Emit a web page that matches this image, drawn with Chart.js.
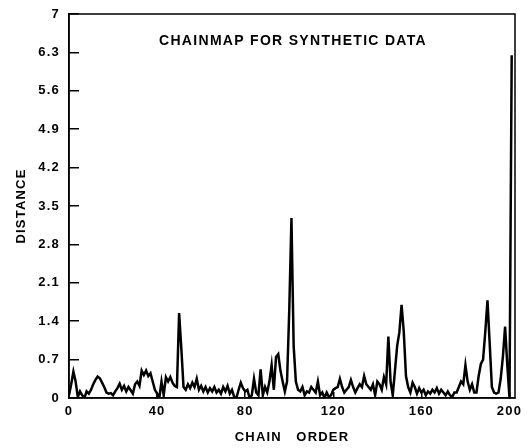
<!DOCTYPE html>
<html><head><meta charset="utf-8">
<script src="https://cdn.jsdelivr.net/npm/chart.js@4.4.1/dist/chart.umd.min.js"></script>
<style>html,body{margin:0;padding:0;background:#fff}#wrap{width:532px;height:448px}</style>
</head><body><div id="wrap"><canvas id="c" width="532" height="448"></canvas></div>
<script>
// Distance value for each chain-order position 0..201
const distance = [
  0.05,0.25,0.48,0.30,0.02,0.12,0.05,0.00,0.12,0.08,
  0.15,0.25,0.33,0.39,0.36,0.28,0.20,0.10,0.08,0.09,
  0.05,0.12,0.18,0.26,0.15,0.22,0.12,0.20,0.14,0.08,
  0.25,0.30,0.22,0.50,0.42,0.50,0.40,0.45,0.30,0.15,
  0.08,0.00,0.30,0.05,0.38,0.30,0.38,0.28,0.22,0.20,
  1.55,0.90,0.20,0.15,0.25,0.18,0.28,0.20,0.35,0.15,
  0.22,0.12,0.20,0.10,0.18,0.12,0.20,0.10,0.15,0.08,
  0.20,0.12,0.22,0.08,0.15,0.02,0.00,0.15,0.28,0.18,
  0.12,0.15,0.00,0.05,0.35,0.10,0.05,0.52,0.05,0.20,
  0.10,0.30,0.60,0.15,0.75,0.80,0.50,0.30,0.12,0.30,
  1.60,3.28,0.95,0.30,0.15,0.12,0.20,0.05,0.12,0.10,
  0.20,0.15,0.10,0.30,0.05,0.10,0.00,0.10,0.02,0.05,
  0.15,0.18,0.20,0.35,0.20,0.10,0.15,0.20,0.33,0.20,
  0.10,0.18,0.25,0.20,0.40,0.25,0.20,0.15,0.25,0.05,
  0.30,0.25,0.15,0.38,0.25,1.12,0.30,0.05,0.50,0.95,
  1.20,1.70,1.20,0.40,0.20,0.10,0.28,0.20,0.08,0.18,
  0.10,0.15,0.05,0.12,0.08,0.15,0.10,0.18,0.08,0.15,
  0.10,0.05,0.12,0.05,0.02,0.10,0.10,0.20,0.30,0.25,
  0.60,0.30,0.15,0.25,0.10,0.10,0.40,0.62,0.70,1.20,
  1.78,1.00,0.20,0.10,0.08,0.10,0.35,0.75,1.30,0.60,
  0.00,6.25
];
const xTicks = [0, 40, 80, 120, 160, 200];
const xTickLabels = ['0', '40', '80', '120', '160', '200'];
const yTicks = [0, 0.7, 1.4, 2.1, 2.8, 3.5, 4.2, 4.9, 5.6, 6.3, 7];
const yTickLabels = ['0', '0.7', '1.4', '2.1', '2.8', '3.5', '4.2', '4.9', '5.6', '6.3', '7'];
const chartTitle = 'CHAINMAP FOR SYNTHETIC DATA';
const xTitle = 'CHAIN   ORDER';
const yTitle = 'DISTANCE';

const points = distance.map((d, i) => ({x: i, y: d}));
const FAM = "'Liberation Sans', Arial, sans-serif";

const framePlugin = {
  id: 'frame',
  beforeDraw(chart) { chart.ctx.letterSpacing = '1.2px'; },
  afterDraw(chart) {
    const {ctx, chartArea: a} = chart;
    ctx.save();
    ctx.strokeStyle = '#000';
    ctx.lineWidth = 1.5;
    ctx.strokeRect(a.left, a.top, a.right - a.left, a.bottom - a.top);
    ctx.fillStyle = '#000';
    ctx.font = "bold 14px " + FAM;
    ctx.letterSpacing = '1.3px';
    ctx.textAlign = 'center';
    ctx.textBaseline = 'middle';
    ctx.fillText(chartTitle, (a.left + a.right) / 2 + 1, a.top + 27);
    ctx.restore();
  }
};

new Chart(document.getElementById('c'), {
  type: 'line',
  data: { datasets: [{ data: points, borderColor: '#000', borderWidth: 2.5, pointRadius: 0, tension: 0, fill: false }] },
  options: {
    responsive: false, animation: false, devicePixelRatio: 1,
    layout: { padding: { left: 0, right: 17, top: 14, bottom: 0 } },
    plugins: { legend: { display: false }, tooltip: { enabled: false } },
    scales: {
      x: {
        type: 'linear', min: 0, max: 202.5,
        afterBuildTicks: s => { s.ticks = xTicks.map(v => ({value: v})); },
        afterFit: s => { s.height = 50; s.paddingLeft = 0; s.paddingRight = 0; },
        grid: { drawOnChartArea: false, drawTicks: true, tickLength: -6, color: '#000', lineWidth: 1.5 },
        border: { display: true, color: '#000', width: 1.5 },
        ticks: { color: '#000', font: { family: FAM, size: 13, weight: 'bold' }, padding: 12, maxRotation: 0, autoSkip: false,
                 callback: (v, i) => xTickLabels[i] },
        title: { display: true, text: xTitle, color: '#000', font: { family: FAM, size: 13, weight: 'bold' }, padding: { top: 0, bottom: 3 } }
      },
      y: {
        type: 'linear', min: 0, max: 7,
        afterBuildTicks: s => { s.ticks = yTicks.map(v => ({value: v})); },
        afterFit: s => { s.width = 69; s.paddingTop = 0; s.paddingBottom = 0; },
        grid: { drawOnChartArea: false, drawTicks: true, tickLength: -10, color: '#000', lineWidth: 1.5 },
        border: { display: true, color: '#000', width: 1.5 },
        ticks: { color: '#000', font: { family: FAM, size: 13, weight: 'bold' }, padding: 19, autoSkip: false,
                 callback: (v, i) => yTickLabels[i] },
        title: { display: true, text: yTitle, color: '#000', font: { family: FAM, size: 13, weight: 'bold' }, padding: { top: 14, bottom: 0 } }
      }
    }
  },
  plugins: [framePlugin]
});
</script>
</body></html>
